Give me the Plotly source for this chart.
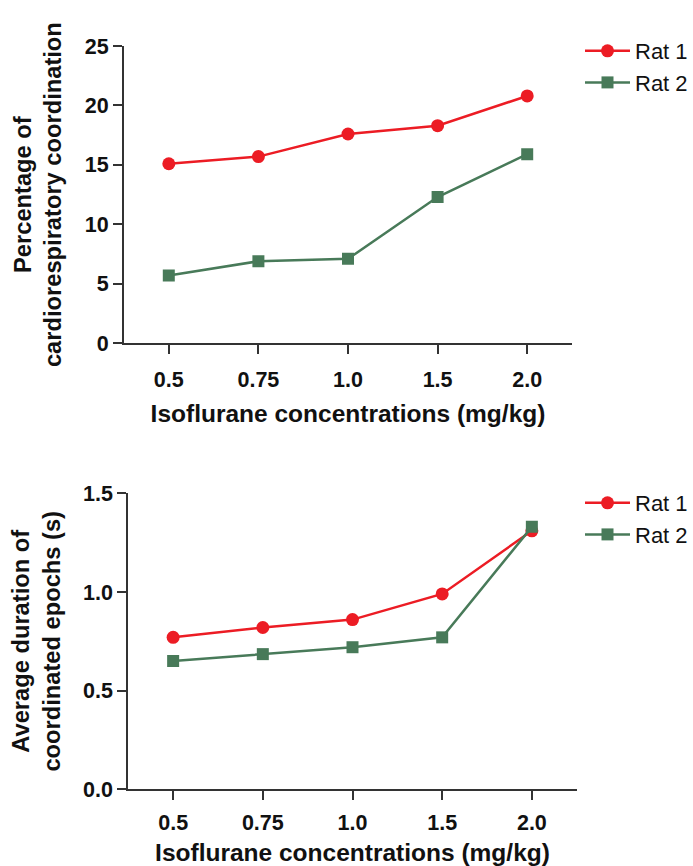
import plotly.graph_objects as go

# Isoflurane concentrations (mg/kg), shown as evenly spaced categories
conc_labels = ["0.5", "0.75", "1.0", "1.5", "2.0"]

# Percentage of cardiorespiratory coordination
pct_rat1 = [15.1, 15.7, 17.6, 18.3, 20.8]
pct_rat2 = [5.7, 6.9, 7.1, 12.3, 15.9]

# Average duration of coordinated epochs (s)
dur_rat1 = [0.77, 0.82, 0.86, 0.99, 1.31]
dur_rat2 = [0.65, 0.685, 0.72, 0.77, 1.33]

pct_ticks = [0, 5, 10, 15, 20, 25]
dur_ticks = [0.0, 0.5, 1.0, 1.5]

RED = "#EC1C24"
GREEN = "#487A59"
AXIS = "#333333"
FONT = "Arial, Liberation Sans, sans-serif"

W, H = 693, 866

fig = go.Figure()

def add_pair(y1, y2, xa, ya, legend):
    fig.add_trace(go.Scatter(
        x=conc_labels, y=y1, name="Rat 1", mode="lines+markers",
        line=dict(color=RED, width=2.5),
        marker=dict(symbol="circle", size=13, color=RED),
        xaxis=xa, yaxis=ya, legend=legend))
    fig.add_trace(go.Scatter(
        x=conc_labels, y=y2, name="Rat 2", mode="lines+markers",
        line=dict(color=GREEN, width=2.5),
        marker=dict(symbol="square", size=12, color=GREEN),
        xaxis=xa, yaxis=ya, legend=legend))

add_pair(pct_rat1, pct_rat2, "x", "y", "legend")
add_pair(dur_rat1, dur_rat2, "x2", "y2", "legend2")

axis_common = dict(
    showline=True, linecolor=AXIS, linewidth=2,
    ticks="outside", tickcolor=AXIS, tickwidth=2, ticklen=9,
    showgrid=False, zeroline=False, automargin=False,
    tickfont=dict(family=FONT, size=21.5, color="#111111", weight="bold"),
)
xtitle_font = dict(family=FONT, size=24.5, color="#111111", weight="bold")
ytitle_font = dict(family=FONT, size=23.7, color="#111111", weight="bold")
legend_font = dict(family=FONT, size=22, color="#111111")

def px_x(a, b):
    return [a / W, b / W]

def px_y(top, bottom):
    return [1 - bottom / H, 1 - top / H]

fig.update_layout(
    width=W, height=H,
    margin=dict(l=0, r=0, t=0, b=0),
    paper_bgcolor="white", plot_bgcolor="white",
    font=dict(family=FONT),
    xaxis=dict(
        **axis_common, domain=px_x(124, 572), anchor="y",
        type="category", range=[-0.5, 4.5], ticklabelstandoff=7,
        title=dict(text="Isoflurane concentrations (mg/kg)", font=xtitle_font, standoff=14),
    ),
    yaxis=dict(
        **axis_common, domain=px_y(46, 343.3), anchor="x",
        range=[0, 25], tickvals=pct_ticks,
        title=dict(text="Percentage of<br>cardiorespiratory coordination", font=ytitle_font, standoff=16),
    ),
    xaxis2=dict(
        **axis_common, domain=px_x(128.3, 576.7), anchor="y2",
        type="category", range=[-0.5, 4.5], ticklabelstandoff=4,
        title=dict(text="Isoflurane concentrations (mg/kg)", font=xtitle_font, standoff=10),
    ),
    yaxis2=dict(
        **axis_common, domain=px_y(493.3, 789.3), anchor="x2",
        range=[0, 1.5], tickvals=dur_ticks, tickformat=".1f",
        title=dict(text="Average duration of<br>coordinated epochs (s)", font=ytitle_font, standoff=16),
    ),
    legend=dict(
        x=580 / W, xanchor="left", y=1 - 30 / H, yanchor="top",
        font=legend_font, itemwidth=45, bgcolor="rgba(0,0,0,0)", tracegroupgap=0,
    ),
    legend2=dict(
        x=580 / W, xanchor="left", y=1 - 482 / H, yanchor="top",
        font=legend_font, itemwidth=45, bgcolor="rgba(0,0,0,0)", tracegroupgap=0,
    ),
    showlegend=True,
)

fig.write_html("out.html")
